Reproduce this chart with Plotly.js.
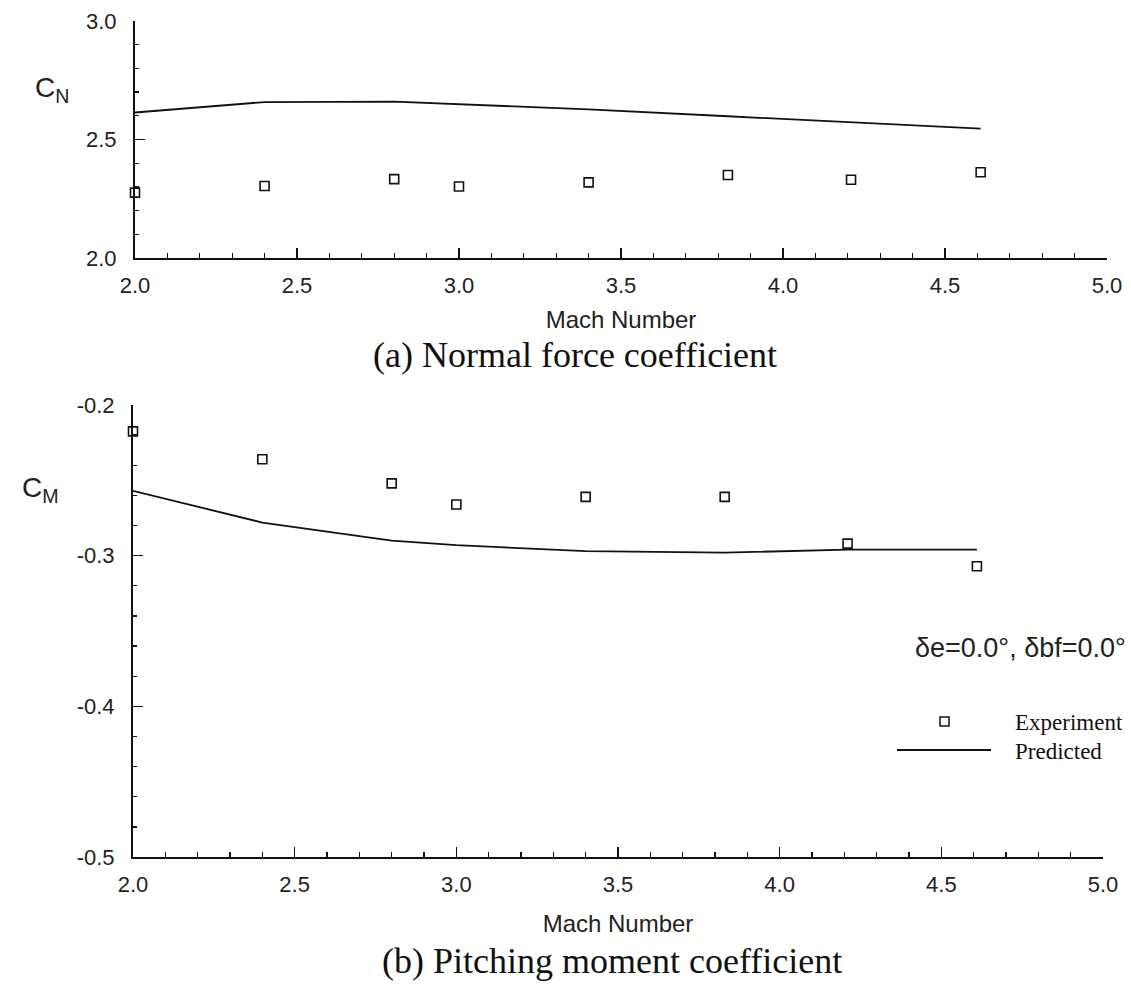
<!DOCTYPE html>
<html>
<head>
<meta charset="utf-8">
<script src="https://cdn.plot.ly/plotly-3.0.1.min.js"></script>
<style>
  html, body { margin: 0; padding: 0; background: #ffffff; }
  #chart { width: 1131px; height: 987px; }
</style>
</head>
<body>
<div id="chart"></div>
<script>
// Mach numbers of the wind-tunnel runs
const machExp = [2.0, 2.4, 2.8, 3.0, 3.4, 3.83, 4.21, 4.61];
// Normal force coefficient
const cnExperiment = [2.276, 2.304, 2.333, 2.302, 2.319, 2.350, 2.330, 2.362];
const cnPredicted  = [2.614, 2.658, 2.660, 2.650, 2.627, 2.598, 2.572, 2.546];
// Pitching moment coefficient
const cmExperiment = [-0.2175, -0.236, -0.252, -0.266, -0.261, -0.261, -0.292, -0.307];
const cmPredicted  = [-0.257, -0.278, -0.290, -0.293, -0.297, -0.298, -0.296, -0.296];

// Axis tick values and their printed labels (plain hyphen for negatives)
const machTicks = [2.0, 2.5, 3.0, 3.5, 4.0, 4.5, 5.0];
const machLabels = ['2.0', '2.5', '3.0', '3.5', '4.0', '4.5', '5.0'];
const cnTicks = [2.0, 2.5, 3.0];
const cnLabels = ['2.0', '2.5', '3.0'];
const cmTicks = [-0.5, -0.4, -0.3, -0.2];
const cmLabels = ['-0.5', '-0.4', '-0.3', '-0.2'];

const W = 1131, H = 987;
const px = x => x / W;          // pixel -> paper x
const py = y => 1 - y / H;      // pixel -> paper y

const ink = '#111111';
const sans = 'Liberation Sans, Arial, sans-serif';
const serif = 'Liberation Serif, Times New Roman, serif';

const expMarker = { symbol: 'square-open', size: 9, color: ink, line: { width: 1.6, color: ink } };
const predLine = { color: ink, width: 1.8 };

const traces = [
  { x: machExp, y: cnPredicted, mode: 'lines', line: predLine, xaxis: 'x', yaxis: 'y', name: 'Predicted' },
  { x: machExp, y: cnExperiment, mode: 'markers', marker: expMarker, xaxis: 'x', yaxis: 'y', name: 'Experiment', cliponaxis: false },
  { x: machExp, y: cmPredicted, mode: 'lines', line: predLine, xaxis: 'x2', yaxis: 'y2', name: 'Predicted' },
  { x: machExp, y: cmExperiment, mode: 'markers', marker: expMarker, xaxis: 'x2', yaxis: 'y2', name: 'Experiment', cliponaxis: false }
];

function xAxis(domain, anchor, standoff) {
  return {
    domain: domain, anchor: anchor,
    range: [2, 5], tickmode: 'array', tickvals: machTicks, ticktext: machLabels,
    ticks: 'inside', ticklen: 10, tickwidth: 1.5, tickcolor: ink,
    minor: { dtick: 0.1, tick0: 2, ticks: 'inside', ticklen: 5, tickwidth: 1.3, tickcolor: ink },
    showline: true, linewidth: 2, linecolor: ink,
    showgrid: false, zeroline: false,
    tickfont: { family: sans, size: 22, color: '#222' },
    ticklabelstandoff: 7,
    title: { text: 'Mach Number', font: { family: sans, size: 24, color: '#222' }, standoff: standoff }
  };
}
function yAxis(domain, anchor, range, vals, labels, minorDtick) {
  return {
    domain: domain, anchor: anchor,
    range: range, tickmode: 'array', tickvals: vals, ticktext: labels,
    ticks: 'inside', ticklen: 10, tickwidth: 1.5, tickcolor: ink,
    minor: { dtick: minorDtick, tick0: range[0], ticks: 'inside', ticklen: 4, tickwidth: 1.3, tickcolor: ink },
    showline: true, linewidth: 2, linecolor: ink,
    showgrid: false, zeroline: false,
    tickfont: { family: sans, size: 22, color: '#222' },
    ticklabelstandoff: 12
  };
}

// text placed in page pixels, centred on the given point unless told otherwise
function label(text, x, y, font, xanchor) {
  return { text: text, xref: 'paper', yref: 'paper', x: px(x), y: py(y),
           xanchor: xanchor || 'center', yanchor: 'middle', showarrow: false, font: font };
}

const layout = {
  width: W, height: H,
  paper_bgcolor: '#ffffff', plot_bgcolor: '#ffffff',
  margin: { l: 0, r: 0, t: 0, b: 0 },
  showlegend: false,
  xaxis: xAxis([px(135), px(1107)], 'y', 14),
  yaxis: yAxis([py(258), py(21)], 'x', [2, 3], cnTicks, cnLabels, 0.1),
  xaxis2: xAxis([px(133), px(1103)], 'y2', 19),
  yaxis2: yAxis([py(857), py(405)], 'x2', [-0.5, -0.2], cmTicks, cmLabels, 0.02),
  annotations: [
    label('C<sub>N</sub>', 33, 90, { family: sans, size: 28, color: '#222' }, 'left'),
    label('C<sub>M</sub>', 20, 489, { family: sans, size: 28, color: '#222' }, 'left'),
    label('(a) Normal force coefficient', 575, 355, { family: serif, size: 36, color: '#111' }),
    label('(b) Pitching moment coefficient', 612, 961, { family: serif, size: 36, color: '#111' }),
    label('δe=0.0°, δbf=0.0°', 1128, 648, { family: sans, size: 27, color: '#222' }, 'right'),
    label('Experiment', 1013, 722, { family: serif, size: 23, color: '#111' }, 'left'),
    label('Predicted', 1013, 751, { family: serif, size: 23, color: '#111' }, 'left')
  ],
  shapes: [
    // legend key: open square and line sample
    { type: 'rect', xref: 'paper', yref: 'paper', x0: px(940), x1: px(949), y0: py(726), y1: py(717),
      line: { color: ink, width: 1.5 } },
    { type: 'line', xref: 'paper', yref: 'paper', x0: px(897), x1: px(991), y0: py(750), y1: py(750),
      line: { color: ink, width: 1.8 } }
  ]
};

Plotly.newPlot('chart', traces, layout, { displayModeBar: false, staticPlot: true });
</script>
</body>
</html>
